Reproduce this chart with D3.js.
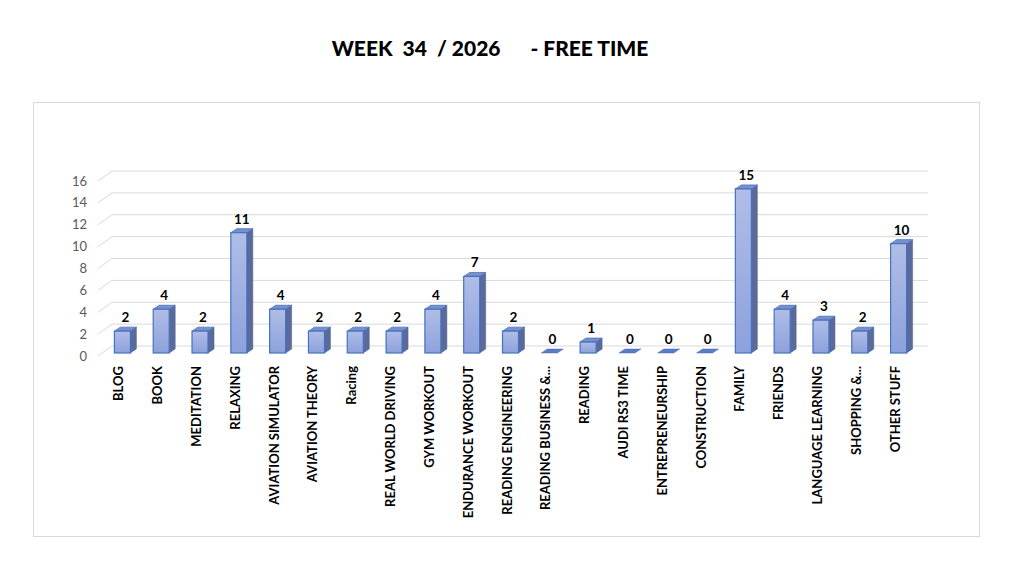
<!DOCTYPE html>
<html>
<head>
<meta charset="utf-8">
<script src="https://cdn.jsdelivr.net/npm/d3@7"></script>
<style>
  body { margin: 0; background: #fff; }
  svg { font-family: Lato, "Open Sans", sans-serif; }
</style>
</head>
<body>
<svg width="1022" height="570"></svg>
<script>
const categories = ["BLOG", "BOOK", "MEDITATION", "RELAXING", "AVIATION SIMULATOR", "AVIATION THEORY",
  "Racing", "REAL WORLD DRIVING", "GYM WORKOUT", "ENDURANCE WORKOUT", "READING ENGINEERING",
  "READING BUSINESS &...", "READING", "AUDI RS3 TIME", "ENTREPRENEURSHIP", "CONSTRUCTION",
  "FAMILY", "FRIENDS", "LANGUAGE LEARNING", "SHOPPING &...", "OTHER STUFF"];
const hours = [2, 4, 2, 11, 4, 2, 2, 2, 4, 7, 2, 0, 1, 0, 0, 0, 15, 4, 3, 2, 10];
const yTicks = [0, 2, 4, 6, 8, 10, 12, 14, 16];

const svg = d3.select("svg");

// 3D depth of the chart floor and of the bars
const wall = {dx: 14, dy: -10};
const front = {dx: 4, dy: -3};
const depth = {dx: 6, dy: -4};
const barW = 16;

const x = d3.scaleBand().domain(categories).range([99, 914]);
const y = d3.scaleLinear().domain([0, 16]).range([356, 181]);

// chart frame
svg.append("rect")
  .attr("x", 33.5).attr("y", 102.5).attr("width", 946).attr("height", 434)
  .attr("fill", "#fff").attr("stroke", "#d9d9d9");

svg.append("text")
  .attr("x", 490).attr("y", 56)
  .attr("text-anchor", "middle")
  .style("white-space", "pre")
  .attr("font-size", 21).attr("font-weight", 900)
  .text("WEEK  34  / 2026      - FREE TIME");

// gridlines on the back wall + left diagonal
const grid = svg.append("g").attr("stroke", "#d9d9d9").attr("fill", "none");
yTicks.forEach(t => {
  grid.append("path").attr("d",
    `M98,${y(t)} L${98 + wall.dx},${y(t) + wall.dy} H${914 + wall.dx}`);
});

svg.append("g").selectAll("text").data(yTicks).enter().append("text")
  .attr("x", 87).attr("y", d => y(d) + 4.5)
  .attr("text-anchor", "end")
  .attr("font-size", 13).attr("fill", "#595959")
  .text(d => d);

const defs = svg.append("defs");
const grad = defs.append("linearGradient").attr("id", "face")
  .attr("x1", 0).attr("y1", 0).attr("x2", 0).attr("y2", 1);
grad.append("stop").attr("offset", "0%").attr("stop-color", "#b0bde6");
grad.append("stop").attr("offset", "100%").attr("stop-color", "#8ca1dc");

const bars = svg.append("g").selectAll("g").data(categories).enter().append("g");

bars.each(function(c, i) {
  const g = d3.select(this);
  const v = hours[i];
  const x0 = x(c) + x.bandwidth() / 2 - barW / 2 + front.dx;
  const x1 = x0 + barW;
  const yb = y(0) + front.dy;
  const yt = y(v) + front.dy;
  if (v === 0) {
    g.append("path")
      .attr("d", `M${x0},${yb} H${x1} L${x1 + depth.dx},${yb + depth.dy} H${x0 + depth.dx} Z`)
      .attr("fill", "#5a7bc6").attr("stroke", "#4a6cb8").attr("stroke-width", 0.5);
  } else {
    // side
    g.append("path")
      .attr("d", `M${x1},${yt} L${x1 + depth.dx},${yt + depth.dy} V${yb + depth.dy} L${x1},${yb} Z`)
      .attr("fill", "#5a6a9a").attr("stroke", "#4f5f90").attr("stroke-width", 0.5);
    // top
    g.append("path")
      .attr("d", `M${x0},${yt} L${x0 + depth.dx},${yt + depth.dy} H${x1 + depth.dx} L${x1},${yt} Z`)
      .attr("fill", "#7a8fc9").attr("stroke", "#4472c4").attr("stroke-width", 0.8);
    // front
    g.append("rect")
      .attr("x", x0).attr("y", yt).attr("width", barW).attr("height", yb - yt)
      .attr("fill", "url(#face)").attr("stroke", "#4472c4").attr("stroke-width", 1.2);
  }
  g.append("text")
    .attr("x", x0 + barW / 2 + depth.dx / 2)
    .attr("y", yt + depth.dy - 5)
    .attr("text-anchor", "middle")
    .attr("font-size", 13.5).attr("font-weight", "bold").attr("fill", "#000")
    .text(v);
});

// category labels, rotated
svg.append("g").selectAll("text").data(categories).enter().append("text")
  .attr("transform", d => `translate(${x(d) + x.bandwidth() / 2 + 5},366) rotate(-90)`)
  .attr("text-anchor", "end")
  .attr("font-size", 13).attr("font-weight", "bold").attr("fill", "#000")
  .text(d => d);
</script>
</body>
</html>
